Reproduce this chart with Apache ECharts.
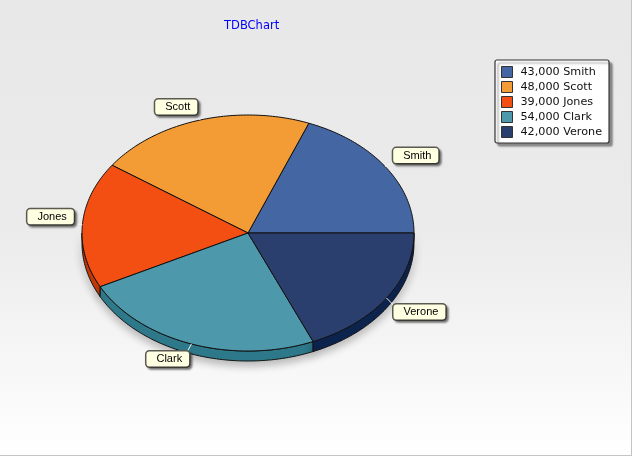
<!DOCTYPE html>
<html>
<head>
<meta charset="utf-8">
<style>html,body{margin:0;padding:0;background:#fff}#c{width:633px;height:457px}</style>
<script src="https://cdn.jsdelivr.net/npm/echarts@6/dist/echarts.min.js"></script>
</head>
<body>
<div id="c"></div>
<script>
const names = ['Smith', 'Scott', 'Jones', 'Clark', 'Verone'];
const values = [43000, 48000, 39000, 54000, 42000];
const topColors = ['#4466a3', '#f39c35', '#f44f12', '#4e98ab', '#2b3f6e'];
const sideColors = ['#1f3f7c', '#c87818', '#c93a08', '#2f7c8e', '#0d2450'];
const labelOffsets = [[8, -11], [-45, -13], [-55, -8], [-45, 15], [7, 14]];

const CX = 248, CY = 233, RX = 166, RY = 118, DEPTH = 10;
const total = values.reduce((a, b) => a + b, 0);
const pt = (deg, dy) => {
  const t = deg * Math.PI / 180;
  return [CX + RX * Math.cos(t), CY - RY * Math.sin(t) + (dy || 0)];
};
const arc = (a, b, dy) => {
  const out = [];
  for (let d = a; d < b; d += 1) out.push(pt(d, dy));
  out.push(pt(b, dy));
  return out;
};
const startOf = i => values.slice(0, i).reduce((a, b) => a + b, 0) / total * 360;

function renderSlice(i) {
  return function (params, api) {
    const a = startOf(i);
    const b = a + api.value(0) / total * 360;
    const children = [];
    const lo = Math.max(a, 180), hi = Math.min(b, 360);
    if (hi > lo) {
      const top = arc(lo, hi, 0), bottom = arc(lo, hi, DEPTH).reverse();
      children.push({
        type: 'polygon', z2: 1,
        shape: { points: top.concat(bottom) },
        style: { fill: sideColors[i], stroke: '#111', lineWidth: 1,
          shadowBlur: 9, shadowOffsetY: 4, shadowColor: 'rgba(0,0,0,0.28)' }
      });
    }
    children.push({
      type: 'polygon', z2: 2,
      shape: { points: [[CX, CY]].concat(arc(a, b, 0)) },
      style: { fill: topColors[i], stroke: '#111', lineWidth: 1 }
    });
    const mid = pt((a + b) / 2, 0);
    const bx = mid[0] + labelOffsets[i][0], by = mid[1] + labelOffsets[i][1];
    const endX = bx < mid[0] ? bx + 40 : bx + 1;
    children.push({
      type: 'line', z2: 3,
      shape: { x1: mid[0], y1: mid[1], x2: endX, y2: by + (by < mid[1] ? 6 : -6) },
      style: { stroke: '#f4f4f4', lineWidth: 1 }
    });
    children.push({
      type: 'text', z2: 4,
      style: {
        x: bx, y: by, text: names[i], align: 'left', verticalAlign: 'middle',
        font: '11px "Liberation Sans", Arial, sans-serif', fill: '#000',
        backgroundColor: '#ffffe1', borderColor: '#5a5a50', borderWidth: 1.5, borderRadius: 3,
        padding: [2, 7, 2, 10],
        shadowBlur: 2, shadowOffsetX: 2, shadowOffsetY: 2, shadowColor: 'rgba(0,0,0,0.4)'
      }
    });
    return { type: 'group', children };
  };
}

const chart = echarts.init(document.getElementById('c'), null, { renderer: 'canvas' });
chart.setOption({
  animation: false,
  backgroundColor: {
    type: 'linear', x: 0, y: 0, x2: 0, y2: 1,
    colorStops: [{ offset: 0, color: '#e8e8e8' }, { offset: 0.5, color: '#ebebeb' }, { offset: 1, color: '#ffffff' }]
  },
  title: {
    text: 'TDBChart', left: 224, top: 20, padding: 0,
    textStyle: { fontFamily: 'DejaVu Sans', fontSize: 11.5, fontWeight: 'normal', color: '#0000ff' }
  },
  legend: {
    left: 495, top: 60, orient: 'vertical', padding: [6, 7, 5, 6],
    itemWidth: 11, itemHeight: 11, itemGap: 3, selectedMode: false,
    icon: 'rect', data: names,
    backgroundColor: '#fff', borderColor: '#333', borderWidth: 1.2, borderRadius: 2,
    shadowBlur: 2, shadowOffsetX: 3, shadowOffsetY: 3, shadowColor: 'rgba(0,0,0,0.4)',
    itemStyle: { borderColor: '#333', borderWidth: 1 },
    textStyle: { fontFamily: 'DejaVu Sans', fontSize: 11.2, color: '#111', padding: [0, 0, 0, 3] },
    formatter: n => values[names.indexOf(n)].toLocaleString('en-US') + ' ' + n
  },
  graphic: [
    { type: 'rect', shape: { x: 631, y: 0, width: 1, height: 456 }, style: { fill: '#c4c4c4' }, silent: true },
    { type: 'rect', shape: { x: 0, y: 455, width: 632, height: 1 }, style: { fill: '#c4c4c4' }, silent: true },
    { type: 'rect', shape: { x: 632, y: 0, width: 1, height: 457 }, style: { fill: '#fff' }, silent: true },
    { type: 'rect', shape: { x: 0, y: 456, width: 633, height: 1 }, style: { fill: '#fff' }, silent: true }
  ],
  series: names.map((n, i) => ({
    type: 'custom', name: n, coordinateSystem: 'none',
    itemStyle: { color: topColors[i] },
    data: [[values[i]]],
    renderItem: renderSlice(i)
  }))
});
</script>
</body>
</html>
